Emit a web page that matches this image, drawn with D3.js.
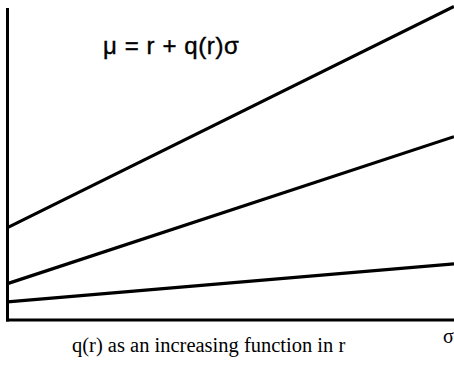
<!DOCTYPE html>
<meta charset="utf-8">
<style>
body { margin: 0; background: #fff; }
.line { fill: none; stroke: #000; stroke-width: 3.2px; }
.axis { stroke: #000; stroke-width: 3px; }
</style>
<body>
<script src="https://cdn.jsdelivr.net/npm/d3@7"></script>
<script>

// sigma at the two ends of the drawn range
var sigma = [0, 1];
// mu = r + q(r) sigma for three values of r (low, middle, high)
var muLow  = [0.6, 1.85];
var muMid  = [1.2, 6.05];
var muHigh = [3.05, 10.35];

var formula = "\u03bc = r + q(r)\u03c3";
var xLabel = "\u03c3";
var caption = "q(r) as an increasing function in r";

var width = 454, height = 366;

// axes origin at (7.5, 320)
var x = d3.scaleLinear().domain([0, 1]).range([7.5, 454]);
var y = d3.scaleLinear().domain([0, 10]).range([320, 17]);

var svg = d3.select("body").append("svg")
    .attr("width", width)
    .attr("height", height);

// axes - plain lines, no ticks
svg.append("line").attr("class", "axis")
    .attr("x1", x(0)).attr("y1", y(0) + 1.5)
    .attr("x2", x(0)).attr("y2", 8);
svg.append("line").attr("class", "axis")
    .attr("x1", x(0) - 1.5).attr("y1", y(0))
    .attr("x2", width).attr("y2", y(0));

var line = d3.line()
    .x(function(d) { return x(d[0]); })
    .y(function(d) { return y(d[1]); });

[muLow, muMid, muHigh].forEach(function(mu) {
  svg.append("path")
      .datum(d3.zip(sigma, mu))
      .attr("class", "line")
      .attr("d", line);
});

svg.append("text")
    .attr("x", 103).attr("y", 54)
    .style("font-family", "Liberation Sans, Arial, sans-serif")
    .style("font-size", "24px")
    .style("letter-spacing", "0.6px")
    .style("stroke", "#000").style("stroke-width", "0.4px")
    .text(formula);

svg.append("text")
    .attr("x", 443).attr("y", 343)
    .style("font-family", "Liberation Serif, Times New Roman, serif")
    .style("font-size", "20px")
    .text(xLabel);

svg.append("text")
    .attr("x", 72).attr("y", 352)
    .style("font-family", "Liberation Serif, Times New Roman, serif")
    .style("font-size", "20.5px")
    .text(caption);

</script>
</body>
